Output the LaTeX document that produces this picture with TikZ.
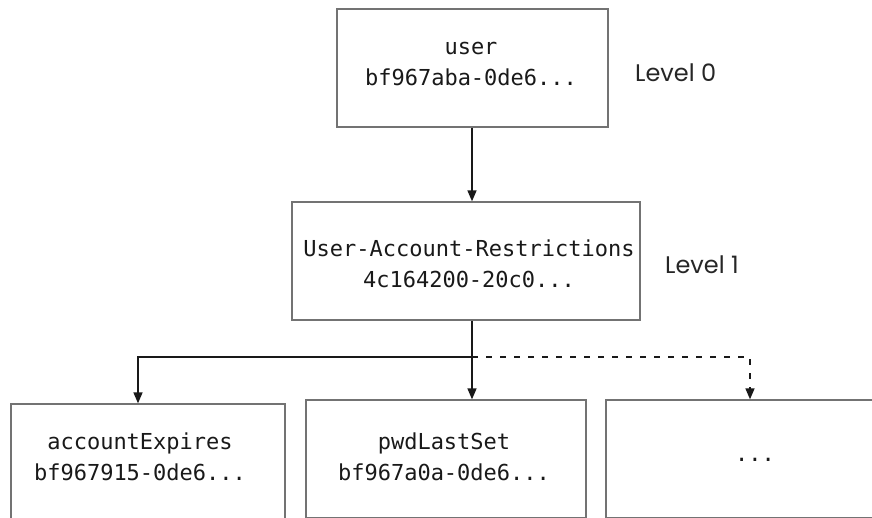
\documentclass[tikz,border=0pt]{standalone}
\usepackage{fontspec}
\newfontfamily\boxmono{DejaVu Sans Mono}
\newfontfamily\levelfont{Poppins}
\usetikzlibrary{arrows.meta}
\tikzset{
  box/.style={draw=black!55, line width=1.3pt, minimum height=118pt, inner sep=0pt},
  boxtext/.style={align=center, font=\boxmono\fontsize{22}{31}\selectfont, text=black!90, inner sep=0pt},
  conn/.style={draw=black!90, line width=1.6pt, -{Triangle[length=11pt,width=9pt]}},
  lvl/.style={anchor=west, font=\levelfont\fontsize{24}{28}\selectfont, text=black!85, inner sep=0pt}
}
\begin{document}
\begin{tikzpicture}[x=1pt,y=-1pt]
\clip (0,0) rectangle (872,518);
\useasboundingbox (0,0) rectangle (872,518);
\node[box, minimum width=271pt] (top) at (472.5,68) {};
\node[boxtext] (toptxt) at (471,64) {user\\bf967aba-0de6...};
\node[box, minimum width=348pt] (mid) at (466,261) {};
\node[boxtext] (midtxt) at (469,264) {User-Account-Restrictions\\4c164200-20c0...};
\node[box, minimum width=274pt] (acct) at (148,463) {};
\node[boxtext] (accttxt) at (140,457) {accountExpires\\bf967915-0de6...};
\node[box, minimum width=280pt] (pwd) at (446,459) {};
\node[boxtext] (pwdtxt) at (444,457) {pwdLastSet\\bf967a0a-0de6...};
\node[box, minimum width=274pt] (more) at (743,459) {};
\node[boxtext] (moretxt) at (755,460) {...};
\node[lvl] (l0) at (635,73) {Level 0};
\node[lvl] (l1) at (665,265) {Level 1};
\coordinate (split) at (472,357);
\coordinate (lt) at (138,357);
\coordinate (rt) at (750,357);
\draw[conn] (top.south -| split) -- (split |- mid.north);
\draw[conn] (split |- mid.south) -- (split |- pwd.north);
\draw[conn] (split) -- (lt) -- (lt |- acct.north);
\draw[conn, dash pattern=on 6pt off 8pt] (split) -- (rt) -- (rt |- more.north);
\end{tikzpicture}
\end{document}
